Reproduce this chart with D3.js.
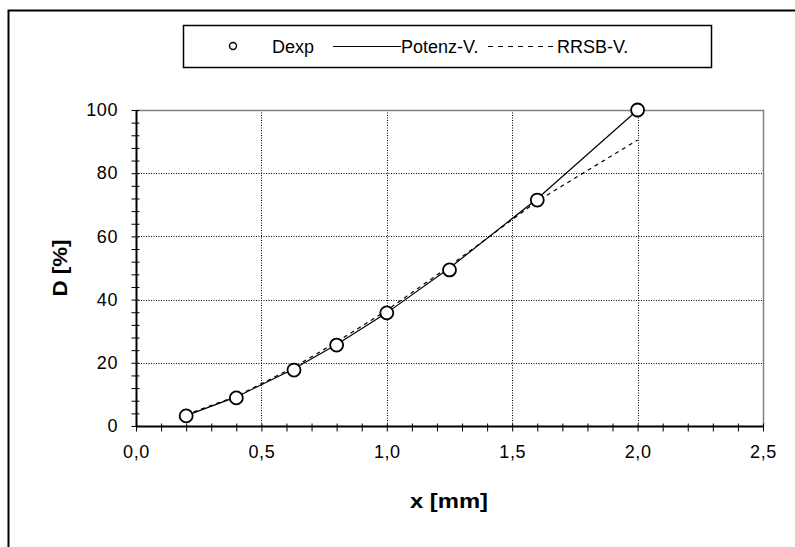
<!DOCTYPE html>
<html>
<head>
<meta charset="utf-8">
<script src="https://cdn.jsdelivr.net/npm/d3@7"></script>
<style>
  body { margin: 0; background: #fff; }
  svg { font-family: "Liberation Sans", Arial, sans-serif; }
</style>
</head>
<body>
<svg id="chart" width="795" height="547"></svg>
<script>
// Messwerte und Anpassungen
const xWerte = [0.2, 0.4, 0.63, 0.8, 1.0, 1.25, 1.6, 2.0];
const dExp = [3.2, 8.9, 17.7, 25.6, 35.8, 49.4, 71.5, 100];
const potenzV = [3.3, 9.2, 18.1, 25.8, 35.8, 50.0, 71.9, 100];
const rrsbV = [3.6, 9.4, 18.6, 26.6, 36.6, 50.6, 71.2, 90.5];

const xTicks = [0, 0.5, 1.0, 1.5, 2.0, 2.5];
const yTicks = [0, 20, 40, 60, 80, 100];

const svg = d3.select("#chart");
const pLeft = 136, pRight = 763, pTop = 110, pBottom = 426;

const x = d3.scaleLinear().domain([0, 2.5]).range([pLeft, pRight]);
const y = d3.scaleLinear().domain([0, 100]).range([pBottom, pTop]);
const fmt = d => d3.format(".1f")(d).replace(".", ",");

// äußerer Rahmen (nur links und oben sichtbar)
svg.append("path").attr("d", "M8.5,547 V10.5 H795")
    .attr("fill", "none").attr("stroke", "#000").attr("stroke-width", 2);

// Gitterlinien
svg.append("g").selectAll("line").data(xTicks.filter(d => d > 0 && d < 2.5)).join("line")
    .attr("x1", d => Math.round(x(d)) + 0.5).attr("x2", d => Math.round(x(d)) + 0.5)
    .attr("y1", pTop).attr("y2", pBottom)
    .attr("stroke", "#000").attr("stroke-dasharray", "1,1.5");
svg.append("g").selectAll("line").data(yTicks.filter(d => d > 0 && d < 100)).join("line")
    .attr("y1", d => Math.round(y(d)) + 0.5).attr("y2", d => Math.round(y(d)) + 0.5)
    .attr("x1", pLeft).attr("x2", pRight)
    .attr("stroke", "#000").attr("stroke-dasharray", "1,1.5");

// Rahmen oben / rechts grau
svg.append("path").attr("d", `M${pLeft},${pTop + 0.5} H${pRight + 0.5} V${pBottom}`)
    .attr("fill", "none").attr("stroke", "#808080").attr("stroke-width", 1.5);

// Achsen
const xAxis = svg.append("g").attr("transform", `translate(0,${pBottom + 0.5})`)
    .call(d3.axisBottom(x).tickValues(d3.range(0, 2.51, 0.1)).tickSize(5).tickFormat(""));
xAxis.selectAll(".tick line").attr("y1", -3);
xAxis.select(".domain").attr("stroke-width", 2).attr("d", `M${pLeft},0H${pRight}`);
svg.append("g").attr("transform", `translate(0,${pBottom})`)
    .call(d3.axisBottom(x).tickValues(xTicks).tickSize(0).tickFormat(fmt))
    .call(g => g.select(".domain").remove())
    .selectAll("text").attr("y", 32).attr("dy", null).attr("font-size", 18).attr("fill", "#000")
    .attr("letter-spacing", 0.6)
    .attr("font-family", "Liberation Sans, Arial, sans-serif");

const yAxis = svg.append("g").attr("transform", `translate(${pLeft + 0.5},0)`)
    .call(d3.axisLeft(y).tickValues(d3.range(0, 101, 4)).tickSize(5).tickFormat(""));
yAxis.selectAll(".tick line").attr("x1", 3);
yAxis.select(".domain").attr("stroke-width", 2).attr("d", `M0,${pBottom}V${pTop}`);
svg.append("g").attr("transform", `translate(${pLeft},0)`)
    .call(d3.axisLeft(y).tickValues(yTicks).tickSize(0).tickPadding(18).tickFormat(d3.format("d")))
    .call(g => g.select(".domain").remove())
    .selectAll("text").attr("font-size", 18).attr("fill", "#000")
    .attr("letter-spacing", 0.6)
    .attr("font-family", "Liberation Sans, Arial, sans-serif");

// Achsentitel
svg.append("text").attr("x", 449).attr("y", 508).attr("text-anchor", "middle")
    .attr("font-size", 21).attr("font-weight", "bold")
    .attr("textLength", 78).attr("lengthAdjust", "spacingAndGlyphs").text("x [mm]");
svg.append("text").attr("transform", "translate(67,268) rotate(-90)").attr("text-anchor", "middle")
    .attr("font-size", 21).attr("font-weight", "bold")
    .attr("textLength", 57).attr("lengthAdjust", "spacingAndGlyphs").text("D [%]");

// Kurven
const line = d3.line().x((d, i) => x(xWerte[i])).y(d => y(d));
svg.append("path").datum(potenzV).attr("d", line)
    .attr("fill", "none").attr("stroke", "#000").attr("stroke-width", 1.2);
svg.append("path").datum(rrsbV).attr("d", line)
    .attr("fill", "none").attr("stroke", "#000").attr("stroke-width", 1.2)
    .attr("stroke-dasharray", "4,4");

// Messpunkte
svg.append("g").selectAll("circle").data(dExp).join("circle")
    .attr("cx", (d, i) => x(xWerte[i])).attr("cy", d => y(d)).attr("r", 6.5)
    .attr("fill", "#fff").attr("stroke", "#000").attr("stroke-width", 1.8);

// Legende
const leg = svg.append("g");
leg.append("rect").attr("x", 183.5).attr("y", 25.5).attr("width", 528).attr("height", 42)
    .attr("fill", "#fff").attr("stroke", "#000").attr("stroke-width", 1.5);
leg.append("circle").attr("cx", 233).attr("cy", 46).attr("r", 3.5)
    .attr("fill", "#fff").attr("stroke", "#000").attr("stroke-width", 1.4);
leg.append("text").attr("x", 272).attr("y", 52.5).attr("font-size", 18).text("Dexp");
leg.append("line").attr("x1", 333).attr("x2", 401).attr("y1", 46.5).attr("y2", 46.5)
    .attr("stroke", "#000");
leg.append("text").attr("x", 401).attr("y", 52.5).attr("font-size", 18).text("Potenz-V.");
leg.append("line").attr("x1", 488).attr("x2", 556).attr("y1", 46.5).attr("y2", 46.5)
    .attr("stroke", "#000").attr("stroke-dasharray", "5,5");
leg.append("text").attr("x", 557).attr("y", 52.5).attr("font-size", 18).text("RRSB-V.");
</script>
</body>
</html>
